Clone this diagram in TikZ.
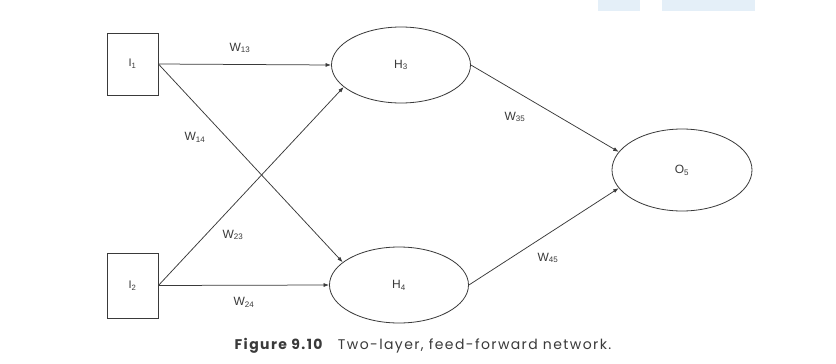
\documentclass[tikz,border=0pt]{standalone}
\usepackage{fontspec}
\setmainfont{Liberation Sans}
\newfontfamily\capfont[LetterSpace=10]{Poppins}
\usetikzlibrary{arrows.meta,shapes.geometric}
\definecolor{ink}{HTML}{3A3A3A}
\definecolor{wm}{HTML}{E4EFF8}
\begin{document}
\begin{tikzpicture}[x=1pt,y=-1pt,
  inbox/.style={draw=ink,line width=0.8pt,minimum width=51pt,inner sep=0pt,font=\fontsize{11}{12}\selectfont,text=ink},
  neuron/.style={draw=ink,line width=0.8pt,ellipse,minimum width=139pt,minimum height=76pt,inner sep=0pt,font=\fontsize{12}{14}\selectfont,text=ink},
  conn/.style={draw=ink,line width=0.75pt,-{Latex[length=5.5pt,width=4pt]}},
  wlab/.style={font=\fontsize{12}{14}\selectfont,text=ink,inner sep=1pt}]
\useasboundingbox (0,0) rectangle (836,364);
\fill[white] (0,0) rectangle (836,364);
\fill[wm] (598,0) rectangle (640,11);
\fill[wm] (662,0) rectangle (755,11);
% nodes
\node[inbox,minimum height=62pt] (I1) at (132.5,64) {I\textsubscript{1}};
\node[inbox,minimum height=65pt] (I2) at (132.5,285.5) {I\textsubscript{2}};
\node[neuron] (H3) at (401,65) {H\textsubscript{3}};
\node[neuron] (H4) at (399,285) {H\textsubscript{4}};
\node[neuron,minimum width=140pt,minimum height=82pt] (O5) at (682,170) {O\textsubscript{5}};
% connectors
\draw[conn] (I1.east) -- (H3.west);
\draw[conn] (I1.east) -- (H4.158);
\draw[conn] (I2.east) -- (H4.west);
\draw[conn] (I2.east) -- (H3.201);
\draw[conn] (H3.east) -- (O5.164);
\draw[conn] (H4.east) -- (O5.196);
% weight labels
\node[wlab] (w13) at (240,48) {W\textsubscript{13}};
\node[wlab] (w14) at (195,137) {W\textsubscript{14}};
\node[wlab] (w23) at (233,235) {W\textsubscript{23}};
\node[wlab] (w24) at (244,302) {W\textsubscript{24}};
\node[wlab] (w35) at (515,117) {W\textsubscript{35}};
\node[wlab] (w45) at (548,258) {W\textsubscript{45}};
% caption
\node[font=\capfont\fontsize{14}{16}\selectfont,text=ink] (cap) at (423,346)
  {\textbf{Figure 9.10}\hspace{1em}Two-layer, feed-forward network.};
\end{tikzpicture}
\end{document}
